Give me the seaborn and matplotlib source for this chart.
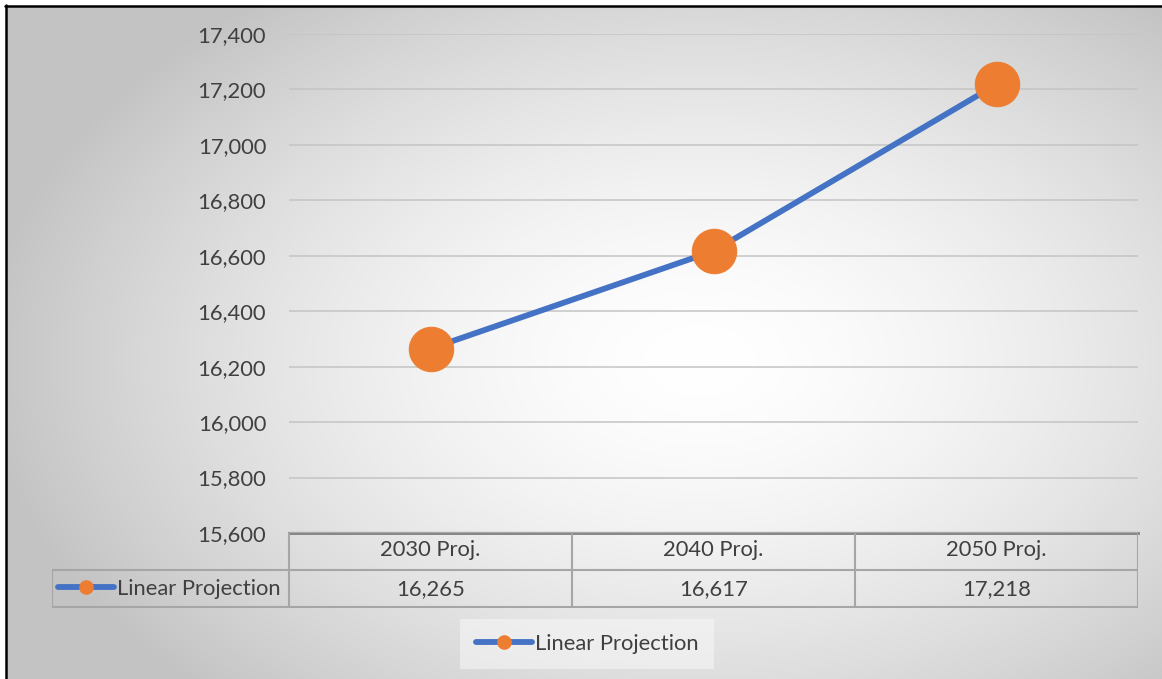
import numpy as np
import pandas as pd
import matplotlib
matplotlib.use("Agg")
import matplotlib.pyplot as plt
import seaborn as sns
from matplotlib.lines import Line2D
from matplotlib.ticker import FuncFormatter

# ---- data ----
categories = ["2030 Proj.", "2040 Proj.", "2050 Proj."]
values = [16265, 16617, 17218]
series_name = "Linear Projection"
y_ticks = [15600, 15800, 16000, 16200, 16400, 16600, 16800, 17000, 17200, 17400]

sns.set_theme(style="white")
plt.rcParams["font.family"] = ["Lato", "DejaVu Sans"]

FS = 15.8
TXT = "#404040"
W, H = 1162, 679
fig = plt.figure(figsize=(W / 100, H / 100), dpi=100)
fig.patch.set_facecolor("white")

def fx(px):
    return px / W

def fy(py):
    return 1 - py / H

# background radial gradient (chart area starts at x=6, y=6)
bg = fig.add_axes([fx(6), 0, 1 - fx(6), fy(6)])
yy, xx = np.mgrid[6:H, 6:W]
cx, cy = 700, 360
r = np.sqrt(((xx - cx) / 720.0) ** 2 + ((yy - cy) / 460.0) ** 2)
r = np.clip(r, 0, 1)
g = 1.0 - 0.235 * r ** 1.6
img = np.dstack([g, g, g])
bg.imshow(img, aspect="auto", interpolation="bilinear")
bg.axis("off")

# border lines (top and left)
fig.add_artist(Line2D([fx(6), fx(6)], [0, fy(5)], color="black", lw=1.8, transform=fig.transFigure))
fig.add_artist(Line2D([fx(5), 1], [fy(6), fy(6)], color="black", lw=1.8, transform=fig.transFigure))

# main axes
L, R, T, B = 289, 1138, 34, 533
ax = fig.add_axes([fx(L), fy(B), fx(R - L), fy(T) - fy(B)])
ax.patch.set_visible(False)

df = pd.DataFrame({"cat": categories, "val": values})
sns.lineplot(data=df, x="cat", y="val", ax=ax, color="#4472C4", linewidth=4.2,
             marker="o", markersize=32, markerfacecolor="#ED7D31",
             markeredgecolor="#ED7D31", sort=False, zorder=3)

ax.set_xlim(-0.5, len(categories) - 0.5)
ax.set_ylim(y_ticks[0], y_ticks[-1])
ax.set_yticks(y_ticks)
ax.yaxis.set_major_formatter(FuncFormatter(lambda v, p: f"{int(v):,}"))
ax.set_xticks([])
ax.set_xlabel("")
ax.set_ylabel("")
ax.tick_params(axis="y", length=0, pad=16.5, labelsize=FS, labelcolor=TXT)
ax.grid(axis="y", color="#c4c4c4", lw=1.1)
ax.grid(axis="x", visible=False)
for s in ["top", "right", "left"]:
    ax.spines[s].set_visible(False)
ax.spines["bottom"].set_color("#7f7f7f")
ax.spines["bottom"].set_linewidth(2.0)

# data table
TL, TB = 52, 608
tax = fig.add_axes([fx(TL), fy(TB), fx(R - TL), fy(531) - fy(TB)])
tax.patch.set_visible(False)
unit = (R - L) / len(categories)
label_w = (L - TL) / unit
tax.set_xlim(-0.5 - label_w, len(categories) - 0.5)
tax.set_ylim(0, 2)
tax.axis("off")
lc = "#a6a6a6"
lw = 1.5
n = len(categories)
tax.plot([-0.5, n - 0.5], [1.97, 1.97], color="#a9a9a9", lw=1.0)
tax.plot([-0.5, n - 0.5], [1.0, 1.0], color=lc, lw=lw)
tax.plot([-0.5 - label_w, n - 0.5], [0.02, 0.02], color=lc, lw=lw)
tax.plot([-0.5 - label_w, -0.5 - label_w], [0.02, 1.0], color=lc, lw=lw)
tax.plot([-0.5 - label_w, -0.5], [1.0, 1.0], color=lc, lw=lw)
for i in range(n + 1):
    tax.plot([i - 0.5, i - 0.5], [0.02, 1.93], color=lc, lw=lw)
for i, (c, v) in enumerate(zip(categories, values)):
    tax.text(i, 1.5, c, ha="center", va="center", fontsize=FS, color=TXT)
    tax.text(i, 0.5, f"{v:,}", ha="center", va="center", fontsize=FS, color=TXT)

handle = Line2D([], [], color="#4472C4", lw=4.2, marker="o", markersize=9.5,
                markerfacecolor="#ED7D31", markeredgecolor="#ED7D31",
                solid_capstyle="round")
tleg = tax.legend([handle], [series_name], loc="center left",
                  bbox_to_anchor=(6 / (R - TL), 0.25), frameon=False, fontsize=FS,
                  handlelength=2.55, handletextpad=0.15, borderaxespad=0.0,
                  borderpad=0.0)
tleg.get_texts()[0].set_color(TXT)

# bottom legend
leg = fig.legend([handle], [series_name], loc="center",
                 bbox_to_anchor=(fx(587), fy(644)), frameon=True, fontsize=FS,
                 handlelength=2.55, handletextpad=0.15, borderpad=0.7,
                 fancybox=False)
leg.get_frame().set_facecolor("#f8f8f8")
leg.get_frame().set_edgecolor("none")
leg.get_frame().set_alpha(0.55)
leg.get_texts()[0].set_color(TXT)

fig.savefig("out.png", dpi=100, facecolor="white")
